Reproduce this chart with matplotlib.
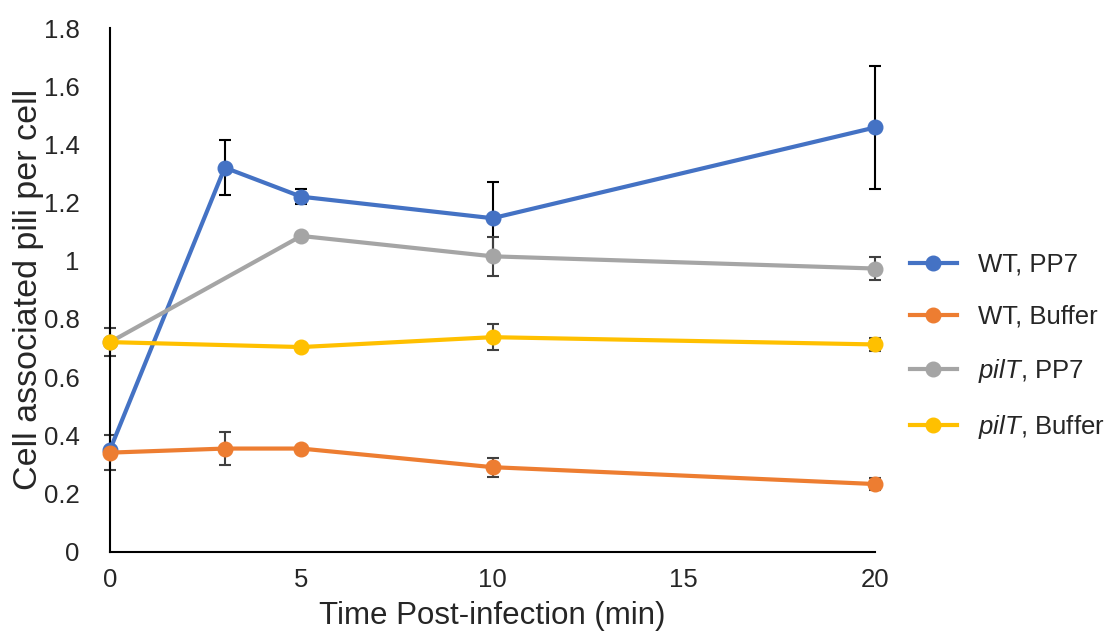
import matplotlib
matplotlib.use('Agg')
import matplotlib.pyplot as plt

plt.rcParams.update({
    'font.family': ['Liberation Sans', 'DejaVu Sans'],
    'mathtext.fontset': 'custom',
    'mathtext.rm': 'Liberation Sans',
    'mathtext.it': 'Liberation Sans:italic',
})

# time points (min)
t_wt = [0, 3, 5, 10, 20]
t_pilt = [0, 5, 10, 20]

wt_pp7 = [0.35, 1.32, 1.22, 1.146, 1.458]
wt_pp7_err = [0.0, 0.095, 0.025, 0.125, 0.21]

wt_buf = [0.34, 0.354, 0.354, 0.29, 0.232]
wt_buf_err = [0.06, 0.057, 0.0, 0.033, 0.02]

pilt_pp7 = [0.72, 1.085, 1.015, 0.973]
pilt_pp7_err = [0.0, 0.01, 0.068, 0.04]

pilt_buf = [0.72, 0.703, 0.737, 0.712]
pilt_buf_err = [0.047, 0.0, 0.044, 0.022]

series = [
    (t_wt, wt_pp7, wt_pp7_err, '#4472C4', 'black', 'WT, PP7'),
    (t_wt, wt_buf, wt_buf_err, '#ED7D31', '#404040', 'WT, Buffer'),
    (t_pilt, pilt_pp7, pilt_pp7_err, '#A5A5A5', '#404040', r'$\mathit{pilT}$, PP7'),
    (t_pilt, pilt_buf, pilt_buf_err, '#FFC000', '#404040', r'$\mathit{pilT}$, Buffer'),
]

fig = plt.figure(figsize=(11.08, 6.41), dpi=100)
ax = fig.add_axes([0.0993, 0.1396, 0.6904, 0.8167])

handles = []
for x, y, err, col, ecol, lab in series:
    eb = ax.errorbar(x, y, yerr=err, fmt='none', ecolor=ecol, elinewidth=1.5,
                     capsize=4, capthick=1.5, zorder=2)
    for art in eb.get_children():
        art.set_clip_on(False)
    h, = ax.plot(x, y, '-o', color=col, lw=3, ms=10.5, label=lab, zorder=3,
                 clip_on=False)
    handles.append(h)

ax.set_xlim(0, 20)
ax.set_ylim(0, 1.8)
ax.set_xticks([0, 5, 10, 15, 20])
ax.set_yticks([0, 0.2, 0.4, 0.6, 0.8, 1, 1.2, 1.4, 1.6, 1.8])
ax.set_yticklabels(['0', '0.2', '0.4', '0.6', '0.8', '1', '1.2', '1.4', '1.6', '1.8'])
ax.tick_params(length=0, labelsize=18.5, colors='#262626')
ax.tick_params(axis='x', pad=12)
ax.tick_params(axis='y', pad=22)
for s in ['top', 'right']:
    ax.spines[s].set_visible(False)
for s in ['left', 'bottom']:
    ax.spines[s].set_linewidth(1.5)

ax.set_xlabel('Time Post-infection (min)', fontsize=22.5, labelpad=6,
              color='#262626')
ax.set_ylabel('Cell associated pili per cell', fontsize=24.5, color='#262626')
ax.yaxis.set_label_coords(-0.086, 0.5)

fig.legend(handles=handles, loc='upper left', bbox_to_anchor=(0.8, 0.642),
           frameon=False, fontsize=18.5, handlelength=1.85, labelspacing=1.1,
           handletextpad=0.8, labelcolor='#262626')

fig.savefig('out.png', dpi=100)
